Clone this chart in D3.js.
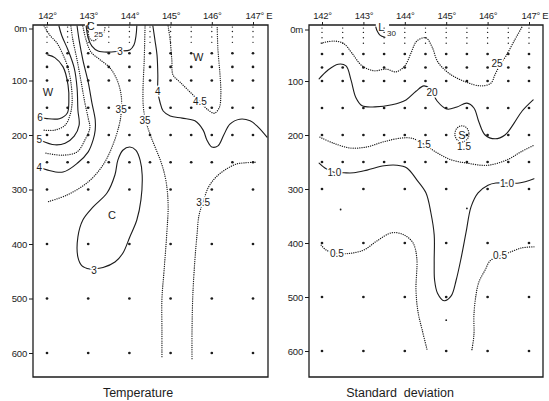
<!DOCTYPE html>
<html>
<head>
<meta charset="utf-8">
<script src="https://cdn.jsdelivr.net/npm/d3@7"></script>
<style>
  body { margin: 0; background: #fff; }
  svg text { font-family: 'Liberation Sans', Arial, sans-serif; fill: #1c1c1c; }
</style>
</head>
<body>
<svg id="chart" width="549" height="401"></svg>
<script>
// Axis ticks
const lonTicks = [142, 143, 144, 145, 146, 147];
const lonTickLabels = ['142°', '143°', '144°', '145°', '146°', '147° E'];
const depthTicks = [0, 100, 200, 300, 400, 500, 600];
const depthTickLabels = ['0m', '100', '200', '300', '400', '500', '600'];

// Sampling stations (lon) and depths (m)
const stations = [142, 142.5, 143, 143.5, 144, 144.5, 145, 145.5, 146, 146.5, 147];
const shallowDepths = [0, 10, 20, 30];
const upperDepths = [50, 75, 100, 150, 200, 250];
const deepStations = [142, 143, 144, 145, 146, 147];
const deepDepths = [300, 400, 500, 600];
const sdExtraDots = [[142.45, 338], [145.5, 336], [145, 543]];

// Temperature contours: [lon, depth]
const t6 = [[142.02, 53], [142.19, 58], [142.39, 75], [142.51, 108], [142.53, 140], [142.49, 160], [142.3, 170], [142.0, 170], [141.85, 168]];
const t55 = [[141.93, 0], [142.07, 17], [142.24, 31], [142.36, 48], [142.49, 72], [142.58, 103], [142.61, 139], [142.56, 163], [142.44, 182], [142.19, 191], [141.9, 191]];
const t5 = [[142.29, 0], [142.36, 18], [142.51, 44], [142.66, 77], [142.73, 114], [142.75, 154], [142.78, 182], [142.66, 202], [142.44, 215], [142.19, 218], [141.85, 210]];
const t45a = [[142.58, 0], [142.63, 26], [142.73, 62], [142.83, 103], [142.92, 141], [143.0, 169], [143.04, 187], [142.92, 209], [142.73, 231], [142.39, 237], [141.95, 233]];
const t4a = [[142.73, 0], [142.78, 26], [142.87, 62], [143.0, 103], [143.09, 141], [143.17, 172], [143.17, 191], [143.12, 209], [143.0, 231], [142.75, 251], [142.39, 268], [142.0, 264], [141.85, 260]];
const t35a = [[142.87, 0], [142.95, 26], [143.07, 48], [143.29, 62], [143.53, 77], [143.7, 99], [143.8, 127], [143.8, 160], [143.75, 182], [143.6, 218], [143.36, 255], [143.0, 286], [142.49, 310], [142.0, 323]];
const t3a = [[142.95, 0], [143.0, 22], [143.09, 37], [143.24, 46], [143.48, 48], [143.77, 46], [144.01, 44], [144.11, 35], [144.16, 18], [144.18, 0]];
const t25 = [[142.97, 0], [143.0, 13], [143.05, 24], [143.14, 27], [143.25, 20], [143.38, 11], [143.41, 0]];
const t4b = [[144.57, 0], [144.62, 26], [144.67, 53], [144.69, 90], [144.69, 121], [144.74, 139], [144.82, 156], [144.99, 165], [145.28, 169], [145.59, 174], [145.79, 191], [145.88, 209], [146.0, 222], [146.15, 220], [146.29, 200], [146.44, 180], [146.68, 171], [146.93, 174], [147.12, 185], [147.34, 204]];
const t45b = [[144.94, 0], [144.99, 26], [145.03, 62], [145.06, 90], [145.23, 103], [145.47, 121], [145.71, 139], [145.91, 154], [146.06, 160], [146.18, 150], [146.22, 127], [146.2, 90], [146.15, 44], [146.13, 0]];
const t35b = [[144.38, 0], [144.36, 62], [144.33, 117], [144.34, 150], [144.4, 175], [144.5, 198], [144.6, 218], [144.72, 240], [144.82, 262], [144.9, 290], [144.94, 330], [144.91, 378], [144.84, 450], [144.79, 500], [144.79, 560], [144.79, 609]];
const t35c = [[147.05, 250], [146.81, 251], [146.61, 253], [146.32, 264], [146.08, 279], [145.91, 297], [145.79, 323], [145.69, 347], [145.64, 384], [145.59, 429], [145.54, 493], [145.52, 558], [145.52, 613]];
const t3c = [[143.04, 446], [143.36, 443], [143.65, 433], [143.84, 417], [144.01, 387], [144.18, 356], [144.28, 319], [144.31, 273], [144.26, 246], [144.16, 228], [144.01, 222], [143.84, 228], [143.72, 246], [143.65, 273], [143.46, 306], [143.12, 332], [142.87, 356], [142.75, 387], [142.75, 424], [142.85, 440], [143.04, 446]];

const tempContours = [
  { pts: t6, dotted: false }, { pts: t55, dotted: true }, { pts: t5, dotted: false },
  { pts: t45a, dotted: true }, { pts: t4a, dotted: false }, { pts: t35a, dotted: true },
  { pts: t3a, dotted: false }, { pts: t25, dotted: true }, { pts: t4b, dotted: false },
  { pts: t45b, dotted: true }, { pts: t35b, dotted: true }, { pts: t35c, dotted: true },
  { pts: t3c, dotted: false }
];
const tempLabels = [
  ['6', 141.83, 167], ['5', 141.81, 209], ['4', 141.81, 259], ['3', 143.77, 46], ['25', 143.25, 15],
  ['35', 143.8, 154], ['35', 144.38, 174], ['4', 144.69, 121], ['4.5', 145.71, 139],
  ['3.5', 145.79, 323], ['3', 143.14, 448]
];
const tempNames = [['W', 142.02, 121], ['W', 145.67, 57], ['C', 143.58, 347], ['C', 143.06, 0]];
const tempTopGap = [142.92, 143.21];

// Standard deviation contours
const s30 = [[143.3, 0], [143.33, 7], [143.4, 15], [143.52, 19]];
const s25 = [[141.98, 30], [142.29, 26], [142.53, 31], [142.72, 48], [142.97, 72], [143.26, 81], [143.55, 78], [143.79, 83], [144.0, 72], [144.15, 48], [144.29, 26], [144.51, 20], [144.66, 37], [144.8, 65], [145.09, 87], [145.48, 102], [145.84, 109], [146.08, 104], [146.18, 88], [146.3, 70], [146.44, 54], [146.64, 26], [146.83, 0]];
const s20 = [[141.93, 96], [142.14, 80], [142.39, 69], [142.58, 72], [142.7, 98], [142.82, 131], [142.97, 146], [143.28, 148], [143.69, 144], [144.03, 135], [144.27, 119], [144.46, 109], [144.62, 115], [144.78, 137], [145.02, 152], [145.26, 148], [145.5, 141], [145.67, 150], [145.79, 176], [145.94, 200], [146.18, 207], [146.42, 200], [146.64, 178], [146.83, 156], [147.1, 135]];
const s15 = [[141.95, 204], [142.27, 215], [142.68, 224], [143.09, 222], [143.47, 213], [143.88, 206], [144.17, 206], [144.46, 217], [144.78, 233], [145.12, 246], [145.5, 252], [145.99, 256], [146.47, 246], [146.81, 231], [147.12, 219]];
const s10 = [[141.93, 252], [142.07, 261], [142.29, 269], [142.53, 270], [142.77, 270], [143.09, 265], [143.5, 257], [143.81, 256], [144.05, 261], [144.29, 283], [144.51, 307], [144.63, 344], [144.71, 385], [144.71, 435], [144.72, 469], [144.79, 493], [144.95, 507], [145.12, 498], [145.24, 469], [145.36, 428], [145.48, 380], [145.6, 333], [145.77, 307], [146.01, 293], [146.2, 289], [146.47, 289], [146.76, 289], [147.12, 281]];
const s05a = [[141.98, 404], [142.1, 413], [142.34, 419], [142.68, 419], [143.01, 413], [143.33, 396], [143.69, 381], [143.98, 385], [144.2, 400], [144.29, 428], [144.27, 487], [144.32, 528], [144.42, 561], [144.54, 598]];
const s05b = [[147.12, 407], [146.83, 409], [146.54, 417], [146.3, 424], [146.06, 433], [145.94, 450], [145.79, 472], [145.72, 496], [145.67, 533], [145.67, 570], [145.62, 598]];
const sdLoop = { lon: 145.38, depth: 198, dLon: 0.17, dDepth: 15 };

const sdContours = [
  { pts: s30, dotted: false }, { pts: s25, dotted: true }, { pts: s20, dotted: false },
  { pts: s15, dotted: true }, { pts: s10, dotted: false }, { pts: s05a, dotted: true },
  { pts: s05b, dotted: true }
];
const sdLabels = [
  ['30', 143.68, 12], ['25', 146.23, 68], ['20', 144.66, 122], ['1.5', 144.46, 218],
  ['1.5', 145.43, 222], ['1.0', 142.3, 269], ['1.0', 146.47, 290], ['0.5', 142.36, 420],
  ['0.5', 146.3, 424]
];
const sdNames = [['S', 145.38, 201], ['L', 143.43, 0]];
const sdTopGap = [143.3, 143.62];

const svg = d3.select('#chart');

function drawPanel(p) {
  const x = d3.scaleLinear().domain([142, 147]).range(p.lonPx);
  const y = d3.scaleLinear().domain([0, 600]).range(p.depthPx);
  const g = svg.append('g');
  const f = p.frame;

  // frame (top edge broken where the C / L marks sit)
  g.append('path')
    .attr('d', `M${x(p.topGap[0])},${f.y0}H${f.x0}V${f.y1}H${f.x1}V${f.y0}H${x(p.topGap[1])}`)
    .attr('stroke', '#1c1c1c').attr('stroke-width', 1.3).attr('fill', 'none');

  // top axis
  const top = g.append('g')
    .attr('transform', `translate(0,${f.y0})`)
    .call(d3.axisTop(x).tickValues(lonTicks).tickSize(3).tickPadding(3)
      .tickFormat((d, i) => lonTickLabels[i]));
  top.select('.domain').remove();
  top.selectAll('line').attr('stroke', '#1c1c1c');
  top.selectAll('text').style('font-size', '9.5px').style('letter-spacing', '-0.3px').attr('fill', '#1c1c1c');
  top.selectAll('text').filter((d, i) => i === lonTicks.length - 1)
    .attr('text-anchor', 'start').attr('dx', '-8');

  // left axis
  const left = g.append('g')
    .attr('transform', `translate(${f.x0},0)`)
    .call(d3.axisLeft(y).tickValues(depthTicks).tickSize(4).tickPadding(2)
      .tickFormat((d, i) => depthTickLabels[i]));
  left.select('.domain').remove();
  left.selectAll('line').attr('stroke', '#1c1c1c');
  left.selectAll('text').style('font-size', '9.5px').style('letter-spacing', '-0.2px').attr('fill', '#1c1c1c');
  left.selectAll('.tick').filter(d => d === 0).attr('transform', `translate(0,${y(0) + 3})`);

  // sample dots
  const dots = [];
  stations.forEach(s => {
    shallowDepths.forEach(d => dots.push({ lon: s, depth: d, r: 0.7 }));
    upperDepths.forEach(d => dots.push({ lon: s, depth: d, r: 1.35 }));
  });
  deepStations.forEach(s => deepDepths.forEach(d => dots.push({ lon: s, depth: d, r: 1.35 })));
  (p.extraDots || []).forEach(([lon, depth]) => dots.push({ lon, depth, r: 0.9 }));
  g.append('g').selectAll('circle').data(dots).join('circle')
    .attr('cx', d => x(d.lon)).attr('cy', d => y(Math.max(d.depth, 2)))
    .attr('r', d => d.r).attr('fill', '#1c1c1c');

  // contours
  const line = d3.line().x(d => x(d[0])).y(d => y(d[1])).curve(d3.curveCatmullRom.alpha(0.5));
  g.append('g').selectAll('path').data(p.contours).join('path')
    .attr('d', d => line(d.pts))
    .attr('fill', 'none')
    .attr('stroke', '#1c1c1c')
    .attr('stroke-width', d => d.dotted ? 1.3 : 1.1)
    .attr('stroke-linecap', 'round')
    .attr('stroke-dasharray', d => d.dotted ? '0.1,2.1' : null);

  if (p.loop) {
    g.append('ellipse')
      .attr('cx', x(p.loop.lon)).attr('cy', y(p.loop.depth))
      .attr('rx', x(p.loop.lon + p.loop.dLon) - x(p.loop.lon))
      .attr('ry', y(p.loop.depth + p.loop.dDepth) - y(p.loop.depth))
      .attr('fill', 'none').attr('stroke', '#1c1c1c').attr('stroke-width', 1.3)
      .attr('stroke-linecap', 'round').attr('stroke-dasharray', '0.1,2.1');
  }

  // contour labels with white halo to break the lines
  g.append('g').selectAll('text').data(p.labels).join('text')
    .attr('x', d => x(d[1])).attr('y', d => y(d[2]))
    .attr('dy', '0.35em').attr('text-anchor', 'middle')
    .style('font-size', d => d[0] === '30' || (d[0] === '25' && p.small) ? '8px' : '10px')
    .attr('stroke', '#fff').attr('stroke-width', 3).attr('paint-order', 'stroke')
    .text(d => d[0]);

  g.append('g').selectAll('text').data(p.names).join('text')
    .attr('x', d => x(d[1])).attr('y', d => y(d[2]))
    .attr('dy', '0.35em').attr('text-anchor', 'middle')
    .style('font-size', '11px')
    .text(d => d[0]);

  // panel title
  g.append('text').attr('x', p.titleX).attr('y', 397).attr('text-anchor', 'middle')
    .style('font-size', '12.5px').style('white-space', 'pre').text(p.title);
}

drawPanel({
  frame: { x0: 33, x1: 268, y0: 25, y1: 377 },
  lonPx: [47, 253], depthPx: [26, 353],
  topGap: tempTopGap, contours: tempContours, labels: tempLabels, names: tempNames,
  small: true, title: 'Temperature', titleX: 138
});

drawPanel({
  frame: { x0: 309, x1: 543, y0: 25, y1: 377 },
  lonPx: [322, 529], depthPx: [27, 351],
  topGap: sdTopGap, contours: sdContours, labels: sdLabels, names: sdNames,
  loop: sdLoop, extraDots: sdExtraDots, small: false,
  title: 'Standard  deviation', titleX: 400
});
</script>
</body>
</html>
